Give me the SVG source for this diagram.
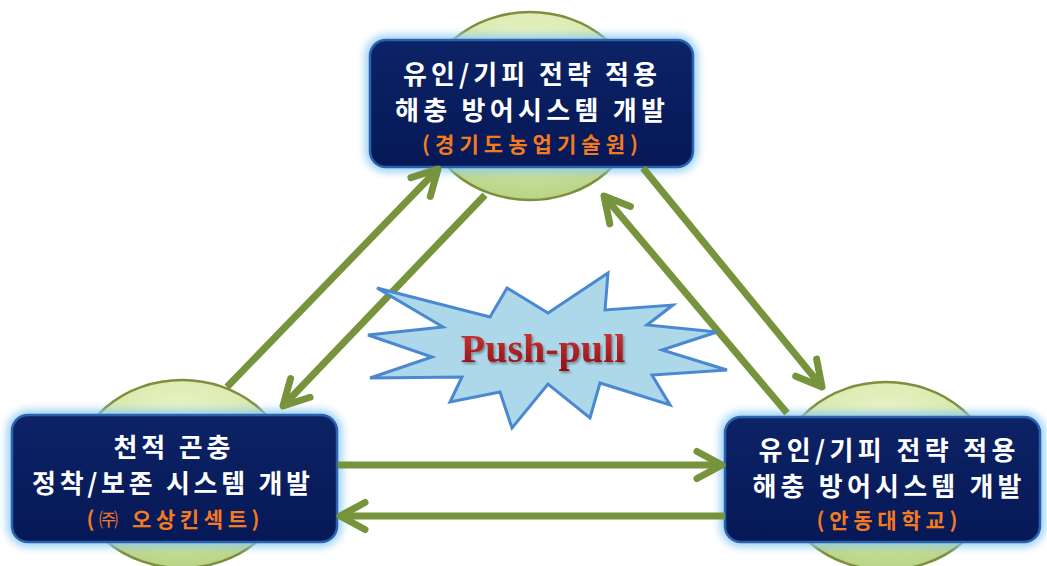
<svg xmlns="http://www.w3.org/2000/svg" width="1047" height="566" viewBox="0 0 1047 566">
  <defs>
    <radialGradient id="ballG" cx="0.5" cy="0.3" r="0.7">
      <stop offset="0" stop-color="#f1f7d2"/>
      <stop offset="0.6" stop-color="#d6e8a8"/>
      <stop offset="1" stop-color="#b9d486"/>
    </radialGradient>
    <linearGradient id="boxG" x1="0" y1="0" x2="0" y2="1">
      <stop offset="0" stop-color="#0c2366"/>
      <stop offset="1" stop-color="#061856"/>
    </linearGradient>
    <linearGradient id="redG" x1="0" y1="0" x2="0" y2="1">
      <stop offset="0" stop-color="#d23a3a"/>
      <stop offset="1" stop-color="#8c0f16"/>
    </linearGradient>
    <filter id="glow" x="-10%" y="-20%" width="120%" height="140%">
      <feGaussianBlur stdDeviation="4"/>
    </filter>
    <filter id="tshadow" x="-10%" y="-20%" width="120%" height="150%">
      <feDropShadow dx="1.5" dy="2" stdDeviation="1" flood-color="#555" flood-opacity="0.6"/>
    </filter>
    <marker id="chev" markerUnits="userSpaceOnUse" viewBox="-30 -18 36 36" refX="0" refY="0" markerWidth="36" markerHeight="36" orient="auto" overflow="visible">
      <path d="M -25 -13.5 L 0 0 L -25 13.5" fill="none" stroke="#77933c" stroke-width="7" stroke-linecap="round" stroke-linejoin="round"/>
    </marker>
  </defs>
  <style>
    .ball { fill: url(#ballG); stroke: #7d8f3e; stroke-width: 2.5; }
    .halo { fill: none; stroke: #8ccaf2; stroke-width: 9; }
    .box { fill: url(#boxG); stroke: #2a62b0; stroke-width: 2.5; }
    .t { font-family: "Noto Sans CJK KR", "Noto Sans", sans-serif; font-weight: 700; fill: #ffffff; font-size: 26px; text-anchor: middle; }
    .o { font-family: "Noto Sans CJK KR", "Noto Sans", sans-serif; font-weight: 700; fill: #f47a1f; font-size: 21px; text-anchor: middle; }
    .arr { fill: none; stroke: #77933c; stroke-width: 7; marker-end: url(#chev); }
    .star { fill: #acd8ea; stroke: #4a88d0; stroke-width: 3; stroke-linejoin: miter; }
    .pp { font-family: "Liberation Serif", "Times New Roman", serif; font-weight: 700; font-size: 40px; fill: url(#redG); text-anchor: middle; }
  </style>
  <rect width="1047" height="566" fill="#ffffff"/>

  <g id="node-top">
    <ellipse class="ball" cx="530" cy="106" rx="108" ry="94"/>
    <rect class="halo" x="370" y="40" width="323" height="127" rx="16" filter="url(#glow)"/>
    <rect class="box" x="370" y="40" width="323" height="127" rx="16"/>
    <text class="t" x="530" y="84" textLength="254" lengthAdjust="spacing">유인/기피 전략 적용</text>
    <text class="t" x="530" y="120" textLength="270" lengthAdjust="spacing">해충 방어시스템 개발</text>
    <text class="o" x="530" y="152" textLength="216" lengthAdjust="spacing">(경기도농업기술원)</text>
  </g>

  <g id="node-left">
    <ellipse class="ball" cx="182" cy="474" rx="108" ry="94"/>
    <rect class="halo" x="12" y="415" width="325" height="127" rx="16" filter="url(#glow)"/>
    <rect class="box" x="12" y="415" width="325" height="127" rx="16"/>
    <text class="t" x="172" y="457" textLength="117" lengthAdjust="spacing">천적 곤충</text>
    <text class="t" x="171" y="493" textLength="278" lengthAdjust="spacing">정착/보존 시스템 개발</text>
    <text class="o" x="173" y="527" textLength="173" lengthAdjust="spacing">(<tspan font-weight="400" font-size="19">㈜</tspan> 오상킨섹트)</text>
  </g>

  <g id="node-right">
    <ellipse class="ball" cx="886" cy="476" rx="108" ry="94"/>
    <rect class="halo" x="725" y="417" width="315" height="125" rx="16" filter="url(#glow)"/>
    <rect class="box" x="725" y="417" width="315" height="125" rx="16"/>
    <text class="t" x="887" y="460" textLength="257" lengthAdjust="spacing">유인/기피 전략 적용</text>
    <text class="t" x="887" y="496" textLength="269" lengthAdjust="spacing">해충 방어시스템 개발</text>
    <text class="o" x="887" y="528" textLength="141" lengthAdjust="spacing">(안동대학교)</text>
  </g>

  <g id="connectors">
    <line class="arr" x1="227" y1="387" x2="438" y2="169"/>
    <line class="arr" x1="485" y1="195" x2="283" y2="406"/>
    <line class="arr" x1="643" y1="168" x2="822" y2="387"/>
    <line class="arr" x1="787" y1="413" x2="604" y2="196"/>
    <line class="arr" x1="338" y1="465" x2="722" y2="465"/>
    <line class="arr" x1="725" y1="516" x2="340" y2="516"/>
  </g>

  <g id="push-pull">
    <polygon class="star" points="377,288 490,317 507,288 548,313 608,273 605,310 673,305 647,325 717,332 662,350 727,370 652,375 670,405 600,383 590,418 548,384 512,428 500,392 450,402 462,377 370,378 432,357 368,335 443,327"/>
    <text class="pp" x="543" y="362" filter="url(#tshadow)">Push-pull</text>
  </g>
</svg>
